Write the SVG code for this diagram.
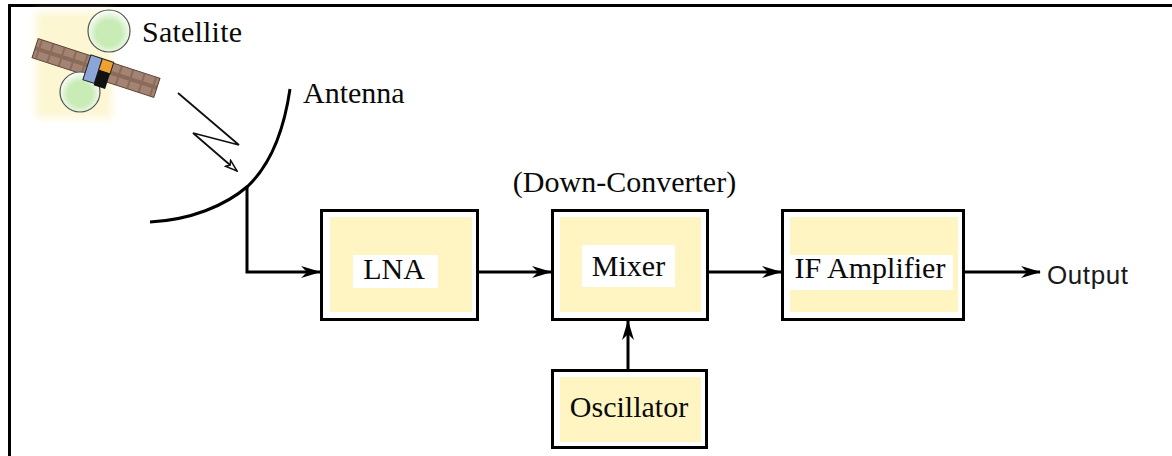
<svg xmlns="http://www.w3.org/2000/svg" width="1172" height="456" viewBox="0 0 1172 456">
  <style>
    .frame { fill: #ffffff; stroke: #000000; stroke-width: 3; }
    .fill { fill: #fff5c2; }
    .lbl-bg { fill: #ffffff; }
    .lbl { font-family: "Liberation Serif", "Times New Roman", serif; font-size: 30px; fill: #0a0a0a; }
    .sans { font-family: "Liberation Sans", Arial, sans-serif; font-size: 26px; fill: #1a1a1a; }
    .wire { fill: none; stroke: #000000; stroke-width: 3; }
    .thin { fill: none; stroke: #111111; stroke-width: 1.8; }
  </style>
  <defs>
    <marker id="arrow" viewBox="0 0 20 12" markerWidth="20" markerHeight="12" refX="19" refY="6" orient="auto" markerUnits="userSpaceOnUse">
      <path d="M0,0 L20,6 L0,12 L6,6 z" fill="#000000"/>
    </marker>
    <marker id="open-arrow" viewBox="0 0 14 10" markerWidth="14" markerHeight="10" refX="13" refY="5" orient="auto" markerUnits="userSpaceOnUse">
      <path d="M1,1 L13,5 L1,9 L4,5 z" fill="#ffffff" stroke="#111111" stroke-width="1.5"/>
    </marker>
    <radialGradient id="disc" cx="0.5" cy="0.55" r="0.55">
      <stop offset="0.55" stop-color="#c9ecb6"/>
      <stop offset="1" stop-color="#ffffff"/>
    </radialGradient>
    <pattern id="cells" width="12" height="20" patternUnits="userSpaceOnUse">
      <rect width="12" height="20" fill="#8a6b5a"/>
      <rect x="1" y="2" width="10" height="16" fill="#a38474"/>
    </pattern>
    <filter id="soft" x="-20%" y="-20%" width="140%" height="140%">
      <feGaussianBlur stdDeviation="4"/>
    </filter>
  </defs>

  <!-- page edge -->
  <path d="M9.5,456 V5.5 H1172" fill="none" stroke="#000000" stroke-width="3"/>

  <!-- satellite -->
  <g id="satellite">
    <rect x="36" y="12" width="76" height="106" fill="#fcf6d2" filter="url(#soft)"/>
    <g transform="translate(96,68) rotate(18)">
      <rect x="-64" y="-10" width="128" height="20" fill="url(#cells)" stroke="#5a4030" stroke-width="1"/>
    </g>
    <circle cx="109" cy="31" r="21" fill="url(#disc)" stroke="#555555" stroke-width="1.2"/>
    <circle cx="80" cy="92" r="20" fill="url(#disc)" stroke="#555555" stroke-width="1.2"/>
    <g transform="translate(98,72) rotate(18)">
      <rect x="-12" y="-14" width="12" height="26" fill="#8aa6d8" stroke="#222222" stroke-width="1"/>
      <rect x="0" y="-14" width="12" height="12" fill="#f0a030" stroke="#222222" stroke-width="1"/>
      <rect x="0" y="-2" width="12" height="16" fill="#111111"/>
    </g>
    <text class="lbl" x="142" y="42" textLength="100">Satellite</text>
  </g>

  <!-- antenna dish -->
  <g id="antenna">
    <path d="M290,89 C284,130 270,165 248,186 C225,206 190,220 150,222" class="wire" stroke-width="2.2"/>
    <text class="lbl" x="303" y="103">Antenna</text>
  </g>

  <!-- downlink signal -->
  <g id="signal">
    <path d="M178,93 L239,145 L193,133 L237,171" class="thin" marker-end="url(#open-arrow)"/>
  </g>

  <!-- LNA -->
  <g id="lna">
    <rect class="frame" x="321.5" y="210.5" width="156" height="109"/>
    <rect class="fill" x="330" y="217" width="142" height="95"/>
    <rect class="lbl-bg" x="353" y="255" width="85" height="33"/>
    <text class="lbl" x="394" y="279" text-anchor="middle">LNA</text>
  </g>

  <!-- Mixer -->
  <g id="mixer">
    <text class="lbl" x="624.5" y="192" text-anchor="middle">(Down-Converter)</text>
    <rect class="frame" x="552.5" y="210.5" width="155" height="109"/>
    <rect class="fill" x="560" y="217" width="141" height="95"/>
    <rect class="lbl-bg" x="582" y="245" width="93" height="42"/>
    <text class="lbl" x="628.5" y="276" text-anchor="middle">Mixer</text>
  </g>

  <!-- IF Amplifier -->
  <g id="if-amplifier">
    <rect class="frame" x="782.5" y="210.5" width="181" height="109"/>
    <rect class="fill" x="790" y="217" width="168" height="95"/>
    <rect class="lbl-bg" x="788" y="255" width="165" height="35"/>
    <text class="lbl" x="870" y="278" text-anchor="middle">IF Amplifier</text>
  </g>

  <!-- Oscillator -->
  <g id="oscillator">
    <rect class="frame" x="552.5" y="370.5" width="154" height="77"/>
    <rect class="fill" x="560" y="377" width="141" height="65"/>
    <text class="lbl" x="629" y="417" text-anchor="middle">Oscillator</text>
  </g>

  <!-- output label -->
  <g id="output">
    <text class="sans" x="1047" y="284" textLength="81">Output</text>
  </g>

  <!-- connectors -->
  <g id="connectors">
    <path class="wire" d="M247,186 V272 H320" marker-end="url(#arrow)"/>
    <path class="wire" d="M478,272 H551" marker-end="url(#arrow)"/>
    <path class="wire" d="M708,272 H781" marker-end="url(#arrow)"/>
    <path class="wire" d="M964,272 H1040" marker-end="url(#arrow)"/>
    <path class="wire" d="M628,370 V321" marker-end="url(#arrow)"/>
  </g>
</svg>
